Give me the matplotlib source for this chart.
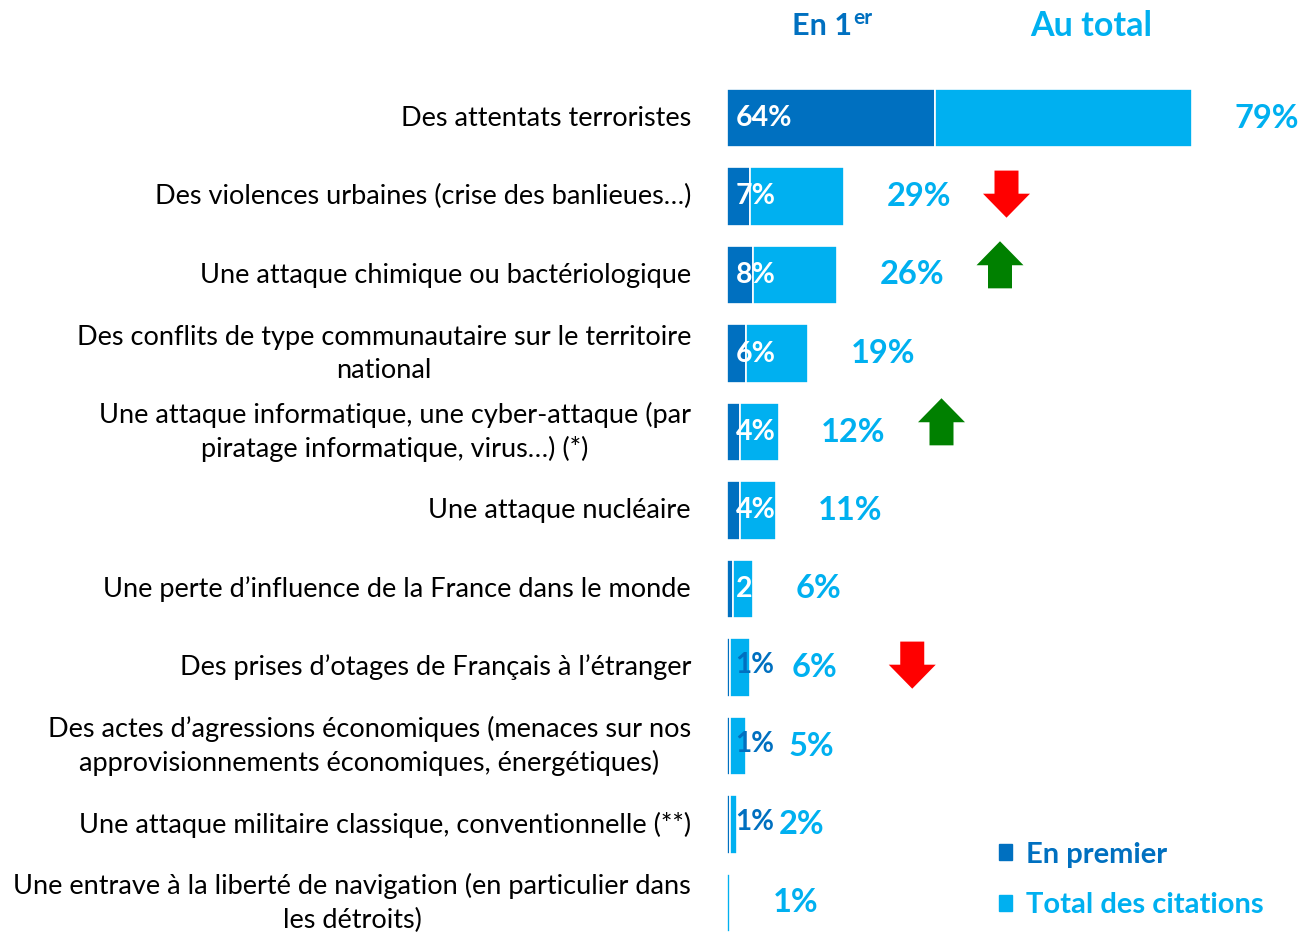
import matplotlib
matplotlib.use("Agg")
import matplotlib.pyplot as plt
import matplotlib.patches as mpatches

plt.rcParams['font.family'] = ['Lato', 'DejaVu Sans']

DARK = '#0070C0'
LIGHT = '#00B0F0'

categories = [
    "Des attentats terroristes",
    "Des violences urbaines (crise des banlieues…)",
    "Une attaque chimique ou bactériologique",
    "Des conflits de type communautaire sur le territoire\nnational",
    "Une attaque informatique, une cyber-attaque (par\npiratage informatique, virus…) (*)",
    "Une attaque nucléaire",
    "Une perte d’influence de la France dans le monde",
    "Des prises d’otages de Français à l’étranger",
    "Des actes d’agressions économiques (menaces sur nos\napprovisionnements économiques, énergétiques)",
    "Une attaque militaire classique, conventionnelle (**)",
    "Une entrave à la liberté de navigation (en particulier dans\nles détroits)",
]
en_premier = [64, 7, 8, 6, 4, 4, 2, 1, 1, 1, 0]
au_total = [79, 29, 26, 19, 12, 11, 6, 6, 5, 2, 1]
trend = [None, 'down', 'up', None, 'up', None, None, 'down', None, None, None]

W, H = 1299, 935
fig = plt.figure(figsize=(W / 100, H / 100), dpi=100)
ax = fig.add_axes([727 / W, 0, 1 - 727 / W, 1])

px_x = 3.25   # pixels per percent
px_y = 78.5   # pixels per row
ax.set_xlim(0, (W - 727) / px_x)
ax.set_ylim((H - 118) / px_y, -118 / px_y)
ax.set_axis_off()

rows = list(range(len(categories)))
ax.barh(rows, en_premier, height=0.74, color=DARK, edgecolor='white', linewidth=1.2)
ax.barh(rows, au_total, left=en_premier, height=0.74, color=LIGHT,
        edgecolor='white', linewidth=1.2)

for i, (cat, first, total) in enumerate(zip(categories, en_premier, au_total)):
    end = first + total
    ax.text(-36 / px_x, i, cat, ha='right', va='center', multialignment='center',
            fontsize=19.5, color='black', linespacing=1.4, clip_on=False)

    # label of first-ranked share
    if first >= 2:
        t = ax.text(2.8, i, f"{first}%", ha='left', va='center', fontsize=20.5,
                    fontweight='bold', color='white')
        clip = mpatches.Rectangle((0, i - 0.37), end, 0.74, transform=ax.transData)
        t.set_clip_path(clip)
    elif first > 0:
        ax.text(2.5, i - 0.03, f"{first}%", ha='left', va='center', fontsize=20,
                fontweight='bold', color=DARK)

    ax.text(end + 13, i, f"{total}%", ha='left', va='center', fontsize=23.5,
            fontweight='bold', color=LIGHT, clip_on=False)

    if trend[i] is not None:
        cx = end + 50
        if trend[i] == 'down':
            arr = mpatches.FancyArrow(cx, i - 0.33, 0, 0.6, width=24 / px_x,
                                      head_width=47 / px_x, head_length=24 / px_y,
                                      length_includes_head=True, color='#FF0000', lw=0)
        else:
            arr = mpatches.FancyArrow(cx, i + 0.17, 0, -0.6, width=24 / px_x,
                                      head_width=47 / px_x, head_length=24 / px_y,
                                      length_includes_head=True, color='#008000', lw=0)
        ax.add_patch(arr)

# column headers
hdr = fig.text(792 / W, 1 - 26 / H, "En 1", ha='left', va='center', fontsize=22,
               fontweight='bold', color=DARK)
ax.annotate("er", xy=(1, 1), xycoords=hdr, xytext=(1, 3), textcoords='offset points',
            ha='left', va='top', fontsize=15, fontweight='bold', color=DARK)
fig.text(1091 / W, 1 - 26 / H, "Au total", ha='center', va='center', fontsize=24.5,
         fontweight='bold', color=LIGHT)

handles = [
    mpatches.Patch(color=DARK, label='En premier'),
    mpatches.Patch(color=LIGHT, label='Total des citations'),
]
fig.legend(handles=handles, loc='center left', bbox_to_anchor=(973 / W, 1 - 880 / H),
           frameon=False, handlelength=0.45, handleheight=0.45, handletextpad=0.45,
           labelspacing=0.85, labelcolor=[DARK, LIGHT],
           prop={'size': 21, 'weight': 'bold'})

fig.savefig('out.png', dpi=100)
